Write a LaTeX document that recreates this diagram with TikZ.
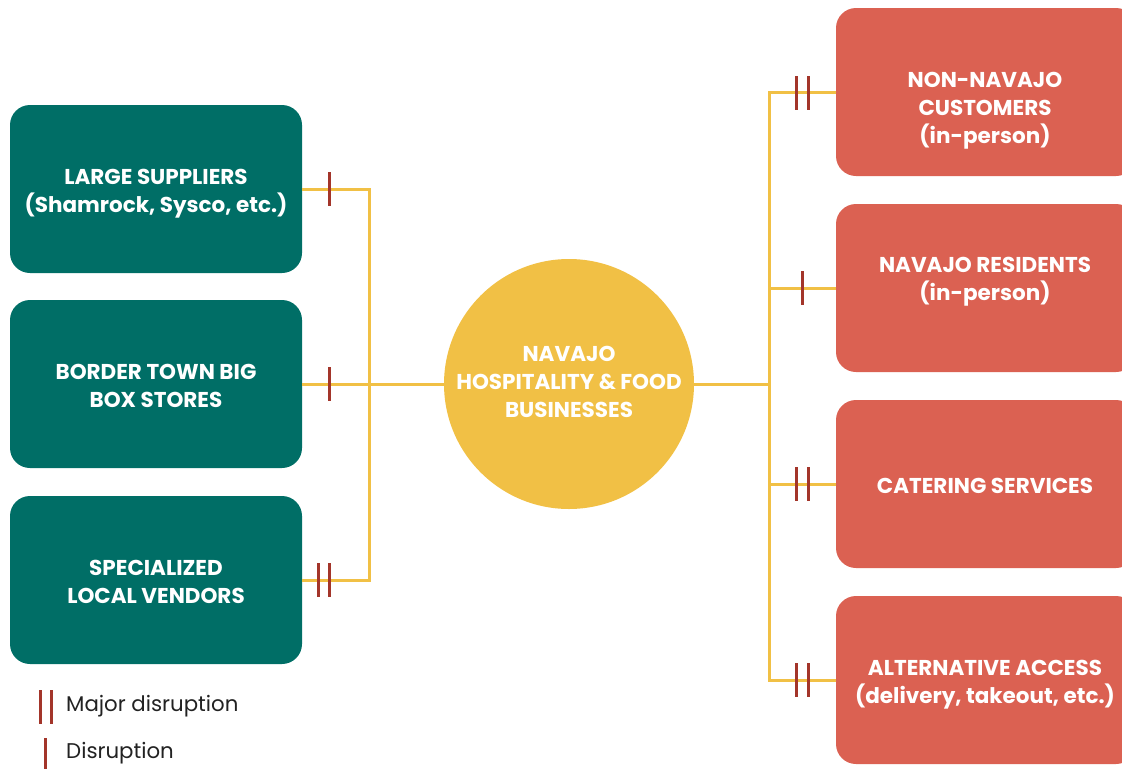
\documentclass[tikz,border=0pt]{standalone}
\usepackage{fontspec}
\setmainfont{Poppins}
\definecolor{teal}{HTML}{006E66}
\definecolor{coral}{HTML}{DB6152}
\definecolor{gold}{HTML}{F1C045}
\definecolor{tick}{HTML}{A3352A}
\definecolor{txt}{HTML}{222222}
\tikzset{
  lbl/.style={text=white, font=\bfseries\fontsize{21.5}{28}\selectfont, align=center, inner sep=0pt},
  supbox/.style={fill=teal, rounded corners=20pt, minimum width=292pt, minimum height=168pt, inner sep=0pt},
  cusbox/.style={fill=coral, rounded corners=20pt, minimum width=300pt, minimum height=168pt, inner sep=0pt},
  hub/.style={circle, fill=gold, minimum size=250pt, inner sep=0pt},
  link/.style={draw=gold, line width=3pt},
  tk/.style={draw=tick, line width=3pt},
  legend/.style={anchor=west, text=txt, font=\fontsize{21.3}{22}\selectfont, inner sep=0pt}
}
\begin{document}
\begin{tikzpicture}[x=1pt,y=-1pt]
\useasboundingbox (0,0) rectangle (1122,769);
\clip (0,0) rectangle (1122,769);
% supplier boxes
\node[supbox] (s1) at (156,189) {};
\node[supbox] (s2) at (156,384) {};
\node[supbox] (s3) at (156,580) {};
\node[lbl] (u1) at (156,194) {LARGE SUPPLIERS\\(Shamrock, Sysco, etc.)};
\node[lbl] (u2) at (156,386) {BORDER TOWN BIG\\BOX STORES};
\node[lbl] (u3) at (156,582) {SPECIALIZED\\LOCAL VENDORS};
% hub
\node[hub] (h) at (569,384) {};
\node[lbl] (ht) at (569,382) {NAVAJO\\HOSPITALITY \& FOOD\\BUSINESSES};
% customer boxes
\node[cusbox] (c1) at (986,92) {};
\node[cusbox] (c2) at (986,288) {};
\node[cusbox] (c3) at (986,484) {};
\node[cusbox] (c4) at (986,680) {};
\node[lbl] (t1) at (985,111) {NON-NAVAJO\\CUSTOMERS\\(in-person)};
\node[lbl] (t2) at (985,282) {NAVAJO RESIDENTS\\(in-person)};
\node[lbl] (t3) at (985,486) {CATERING SERVICES};
\node[lbl] (t4) at (985,685) {ALTERNATIVE ACCESS\\(delivery, takeout, etc.)};
% junction coordinates
\coordinate (jl) at (369,384);
\coordinate (jr) at (769,384);
% left connectors
\draw[link] (s1.east) -| (jl);
\draw[link] (s3.east) -| (jl);
\draw[link] (s2.east) -- (h.west);
% right connectors
\draw[link] (h.east) -- (jr);
\draw[link] (c1.west) -| (jr);
\draw[link] (c4.west) -| (jr);
\draw[link] (c2.west) -- (c2.west -| jr);
\draw[link] (c3.west) -- (c3.west -| jr);
% disruption ticks
\draw[tk] (329,172) -- (329,206);
\draw[tk] (329,367) -- (329,401);
\draw[tk] (318,563) -- (318,597);
\draw[tk] (329,563) -- (329,597);
\draw[tk] (796,76) -- (796,110);
\draw[tk] (808,76) -- (808,110);
\draw[tk] (802,271) -- (802,305);
\draw[tk] (796,467) -- (796,501);
\draw[tk] (808,467) -- (808,501);
\draw[tk] (796,663) -- (796,697);
\draw[tk] (808,663) -- (808,697);
% legend
\draw[tk] (40,690) -- (40,724);
\draw[tk] (51,690) -- (51,724);
\node[legend] (l1) at (66,706) {Major disruption};
\draw[tk] (45,738) -- (45,769);
\node[legend] (l2) at (66,753) {Disruption};
\end{tikzpicture}
\end{document}
